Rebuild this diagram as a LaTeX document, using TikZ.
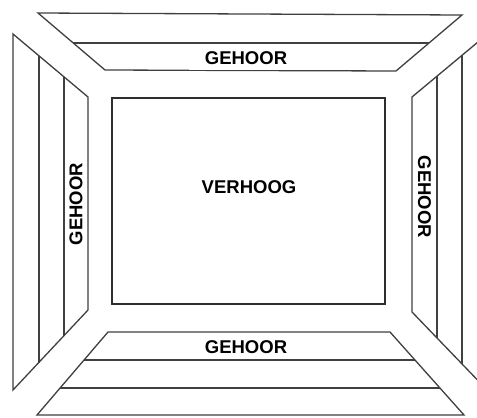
\documentclass[tikz,border=0pt]{standalone}
\usepackage{fontspec}
\setmainfont{Liberation Sans}
\begin{document}
\begin{tikzpicture}[x=1pt,y=-1pt,
  edge/.style={draw=black!75,line width=1.3pt,line join=miter},
  stage/.style={draw=black!82,line width=2.2pt},
  lbl/.style={fill=white,inner sep=0pt,font=\fontsize{18.5}{20}\selectfont\bfseries},
  hlbl/.style={lbl,minimum width=115pt,minimum height=23pt},
  vlbl/.style={lbl,minimum width=132pt,minimum height=21pt}]
\fill[white] (0,0) rectangle (477,418);
\useasboundingbox (0,0) rectangle (477,418);
\begin{scope}
\clip (0,0) rectangle (477,418);
% top
\draw[edge] (38,13) -- (462,15) -- (396,71) -- (105,70) -- cycle;
\draw[edge] (73,43) -- (429,43);
% left
\draw[edge] (13,34) -- (88,97) -- (88,310) -- (13,390) -- cycle;
\draw[edge] (39,56) -- (39,363);
\draw[edge] (64,77) -- (64,336);
% right
\draw[edge] (490,32) -- (412,97) -- (412,312) -- (490,393);
\draw[edge] (437,76) -- (437,338);
\draw[edge] (462,55) -- (462,364);
% bottom
\draw[edge] (108,332) -- (390,332) -- (464,415) -- (37,415) -- cycle;
\draw[edge] (84,360) -- (415,360);
\draw[edge] (60,388) -- (440,388);
% stage
\draw[stage] (112,98) rectangle (385,304);
\end{scope}
\node[hlbl] (top) at (246,58) {GEHOOR};
\node[hlbl] (bot) at (246,347) {GEHOOR};
\node[vlbl,rotate=90] (left) at (76,204) {GEHOOR};
\node[vlbl,rotate=-90] (right) at (424.5,197) {GEHOOR};
\node[lbl,fill=none] (stagelbl) at (249,187) {VERHOOG};
\end{tikzpicture}
\end{document}
